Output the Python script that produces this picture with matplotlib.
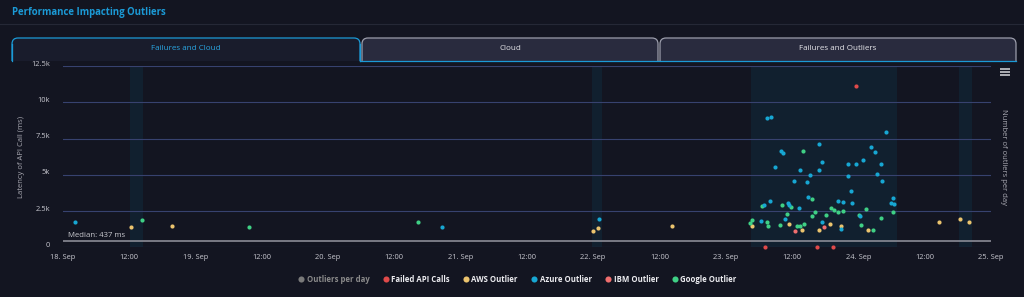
import matplotlib
matplotlib.use("Agg")
import matplotlib.pyplot as plt
import matplotlib.dates as mdates
from matplotlib.patches import FancyBboxPatch, Rectangle
from matplotlib.lines import Line2D
from matplotlib.ticker import FuncFormatter
import matplotlib.transforms as mtrans
import pandas as pd

plt.rcParams["font.family"] = ["Open Sans", "DejaVu Sans"]

# ---- data ----
azure_t = ["2023-09-18 02:16", "2023-09-20 20:35", "2023-09-22 01:05",
           "2023-09-23 07:28", "2023-09-23 08:16", "2023-09-23 10:04", "2023-09-23 10:26",
           "2023-09-23 16:57", "2023-09-23 17:22", "2023-09-23 08:55", "2023-09-23 13:23",
           "2023-09-23 16:49", "2023-09-23 15:11", "2023-09-23 12:26", "2023-09-23 14:47",
           "2023-09-23 14:57", "2023-09-23 07:57", "2023-09-23 06:56", "2023-09-23 11:20",
           "2023-09-23 11:31", "2023-09-23 13:15", "2023-09-23 10:43", "2023-09-23 06:27",
           "2023-09-23 17:29", "2023-09-23 22:04", "2023-09-23 23:31", "2023-09-24 00:54",
           "2023-09-24 04:02", "2023-09-24 02:13", "2023-09-24 02:57", "2023-09-24 05:04",
           "2023-09-23 22:11", "2023-09-24 03:24", "2023-09-24 04:17", "2023-09-23 22:37",
           "2023-09-23 20:15", "2023-09-23 21:13", "2023-09-23 22:51", "2023-09-24 06:20",
           "2023-09-24 05:55", "2023-09-24 06:27", "2023-09-24 00:22", "2023-09-23 20:48"]
azure_v = [1760, 1420, 1970,
           8905, 8953, 6653, 6515,
           7094, 5875, 5510, 5344,
           5303, 5000, 4566, 4477,
           3444, 3168, 2934, 3030,
           2934, 2727, 1970, 1846,
           1722, 5757, 5757, 6012,
           5757, 6908, 6543, 7954,
           4890, 5048, 4587, 3898,
           3189, 3154, 3072, 3395,
           3030, 2982, 2135, 1295]

google_t = ["2023-09-18 14:19", "2023-09-19 09:43", "2023-09-20 16:14",
            "2023-09-23 13:56", "2023-09-23 15:33", "2023-09-23 06:31", "2023-09-23 10:13",
            "2023-09-23 11:45", "2023-09-23 16:06", "2023-09-23 11:05", "2023-09-23 15:41",
            "2023-09-23 04:50", "2023-09-23 04:29", "2023-09-23 07:25", "2023-09-23 07:41",
            "2023-09-23 09:48", "2023-09-23 12:59", "2023-09-23 13:25", "2023-09-23 14:08",
            "2023-09-23 18:08", "2023-09-23 19:02", "2023-09-23 19:34", "2023-09-23 20:19",
            "2023-09-23 21:13", "2023-09-24 01:23", "2023-09-24 00:03", "2023-09-24 06:14",
            "2023-09-24 04:10", "2023-09-24 00:29", "2023-09-24 02:40"]
google_v = [1900, 1380, 1740,
            6632, 3306, 2824, 2893,
            2775, 2445, 2273, 2169,
            1866, 1694, 1742, 1494,
            1550, 1501, 1501, 1618,
            2204, 2693, 2569, 2452,
            2534, 2651, 2245, 2452,
            1997, 1536, 1205]

aws_t = ["2023-09-18 12:20", "2023-09-18 19:45", "2023-09-21 23:57", "2023-09-22 00:50",
         "2023-09-22 14:21", "2023-09-23 04:45", "2023-09-23 11:26", "2023-09-23 13:45",
         "2023-09-23 16:51", "2023-09-23 18:56", "2023-09-23 20:53", "2023-09-24 01:41",
         "2023-09-24 14:31", "2023-09-24 18:19", "2023-09-24 20:04"]
aws_v = [1380, 1450, 1120, 1330,
         1490, 1481, 1584, 1205,
         1205, 1584, 1501, 1205,
         1760, 1970, 1760]

ibm_t = ["2023-09-23 12:27", "2023-09-23 17:51"]
ibm_v = [1109, 1377]

failed_t = ["2023-09-23 07:03", "2023-09-23 16:33", "2023-09-23 19:23", "2023-09-23 23:38"]
failed_v = [0, 0, 0, 11129]

band_start = ["2023-09-18 12:12", "2023-09-21 23:46", "2023-09-23 04:31", "2023-09-24 18:16"]
band_end = ["2023-09-18 14:34", "2023-09-22 01:34", "2023-09-24 07:03", "2023-09-24 20:37"]

median_ms = 437
y_ticks = [0, 2500, 5000, 7500, 10000, 12500]
y_labels = ["0", "2.5k", "5k", "7.5k", "10k", "12.5k"]
tabs = ["Failures and Cloud", "Cloud", "Failures and Outliers"]

BG = "#131521"
GRID = "#37426f"
BLUE = "#1b9ad6"
colors = {"Outliers per day": "#7a7a7a", "Failed API Calls": "#e04a4a",
          "AWS Outlier": "#ebc46e", "Azure Outlier": "#17a7d3",
          "IBM Outlier": "#f06e6e", "Google Outlier": "#3fd085"}

fig = plt.figure(figsize=(10.24, 2.97), dpi=100, facecolor=BG)

# ---- chrome: title, tabs, menu (pixel coordinates) ----
bg = fig.add_axes([0, 0, 1, 1])
bg.set_xlim(0, 1024)
bg.set_ylim(297, 0)
bg.axis("off")
bg.text(12, 13, "Performance Impacting Outliers", color=BLUE, fontsize=6.9,
        fontweight="bold", va="center", ha="left")
bg.plot([0, 1024], [23.5, 23.5], color="#252836", lw=0.8)

tab_x = [(12, 360), (362, 658), (660, 1016)]
for i, (x0, x1) in enumerate(tab_x):
    if i == 0:
        fc, ec, tc = "#191c2c", BLUE, "#2aa6e2"
    else:
        fc, ec, tc = "#292b3e", "#9b9dab", "#e6e6ea"
    bg.add_patch(FancyBboxPatch((x0, 38), x1 - x0, 40,
                                boxstyle="round,pad=0,rounding_size=6",
                                fc=fc, ec=ec, lw=0.9))
    bg.text((x0 + x1) / 2, 48.5, tabs[i], color=tc, fontsize=5.8,
            ha="center", va="center")
bg.add_patch(Rectangle((0, 61), 1024, 240, fc=BG, ec="none"))
bg.plot([360, 1016], [60.8, 60.8], color=BLUE, lw=0.9)
bg.plot([12, 12], [44, 61], color=BLUE, lw=0.9)
bg.plot([360, 360], [44, 61], color=BLUE, lw=0.9)
for yy in (69, 72, 75):
    bg.plot([1000, 1010], [yy, yy], color="#d8d8dc", lw=1.1, solid_capstyle="butt")

# ---- main plot ----
ax = fig.add_axes([62.5 / 1024, 1 - 247.3 / 297, 928.5 / 1024, (247.3 - 66) / 297])
ax.set_facecolor("none")
for s in ax.spines.values():
    s.set_visible(False)

for b0, b1 in zip(band_start, band_end):
    ax.axvspan(pd.Timestamp(b0), pd.Timestamp(b1), color="#11283a", alpha=0.6,
               lw=0, zorder=0)

for yv in y_ticks:
    ax.axhline(yv, color=GRID, lw=0.8, zorder=1)

ax.axhline(median_ms, color="#8a8b96", lw=1.2, zorder=2)
ax.text(pd.Timestamp("2023-09-18 01:00"), median_ms + 120, "Median: 437 ms",
        color="#c9c9cf", fontsize=5.6, va="bottom", ha="left")

series = [("Failed API Calls", failed_t, failed_v),
          ("IBM Outlier", ibm_t, ibm_v),
          ("AWS Outlier", aws_t, aws_v),
          ("Google Outlier", google_t, google_v),
          ("Azure Outlier", azure_t, azure_v)]
for name, t, v in series:
    ax.scatter(pd.to_datetime(t), v, s=9, color=colors[name], lw=0, zorder=3,
               clip_on=False)

ax.set_xlim(pd.Timestamp("2023-09-18"), pd.Timestamp("2023-09-25"))
ax.set_ylim(0, 12500)

ax.xaxis.set_major_locator(mdates.HourLocator(byhour=[0, 12]))
def fmt_x(x, pos):
    d = mdates.num2date(x)
    return d.strftime("%H:%M") if d.hour == 12 else "%d. %s" % (d.day, d.strftime("%b"))
ax.xaxis.set_major_formatter(FuncFormatter(fmt_x))
ax.tick_params(axis="x", length=0, pad=5, labelsize=5.4, labelcolor="#c8c8d0")

ax.set_yticks(y_ticks)
ax.set_yticklabels(y_labels)
ax.tick_params(axis="y", length=0, pad=9, labelsize=5.4, labelcolor="#c8c8d0")
off = mtrans.ScaledTranslation(0, 3 / 100, fig.dpi_scale_trans)
for lab in ax.get_yticklabels():
    lab.set_transform(lab.get_transform() + off)

ax.set_ylabel("Latency of API Call (ms)", color="#a9a9b2", fontsize=5.5)
ax.yaxis.set_label_coords((25 - 62.5) / 928.5, 0.5)

ax2 = ax.twinx()
ax2.set_yticks([])
for s in ax2.spines.values():
    s.set_visible(False)
ax2.set_ylabel("Number of outliers per day", color="#a9a9b2", fontsize=5.5,
               rotation=270, va="center")
ax2.yaxis.set_label_coords((1004 - 62.5) / 928.5, 0.5)

# ---- legend ----
names = list(colors.keys())
handles = [Line2D([], [], marker="o", ls="", ms=4.4, mfc=colors[n], mec="none")
           for n in names]
leg = fig.legend(handles, names, loc="center", bbox_to_anchor=(517 / 1024, 1 - 279 / 297),
                 ncol=6, frameon=False, fontsize=5.6, handletextpad=0.2,
                 columnspacing=1.6, handlelength=1.0)
for txt, n in zip(leg.get_texts(), names):
    txt.set_fontweight("bold")
    txt.set_color("#8a8a8a" if n == "Outliers per day" else "#ececf0")

fig.savefig("out.png", dpi=100, facecolor=BG)
